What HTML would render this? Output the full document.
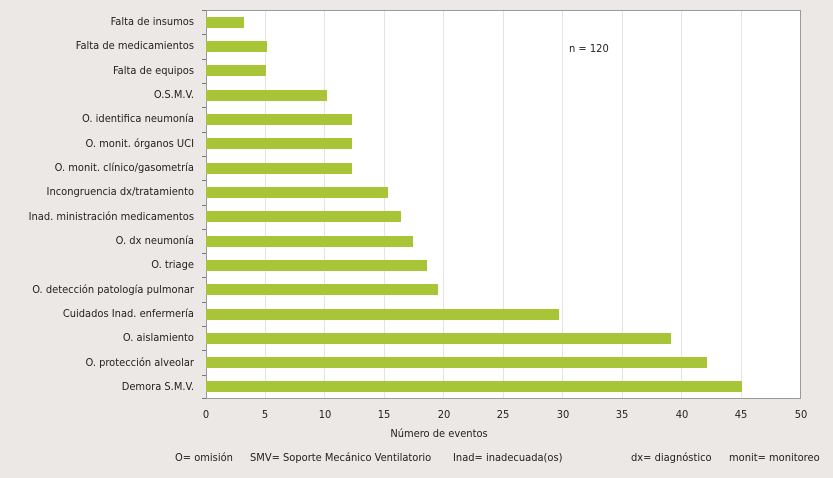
<!DOCTYPE html>
<html><head><meta charset="utf-8"><style>
body{margin:0;background:#ebe8e6;}
svg{display:block;font-family:"DejaVu Sans Condensed","Liberation Sans",sans-serif;}
</style></head><body>
<svg width="833" height="478" xmlns="http://www.w3.org/2000/svg">
<rect width="833" height="478" fill="#ebe8e6"/>
<rect x="206" y="10" width="595" height="389" fill="#fff"/>
<g stroke="#e4e4e4" stroke-width="1">
<line x1="265.5" y1="10" x2="265.5" y2="399"/><line x1="324.5" y1="10" x2="324.5" y2="399"/><line x1="384.5" y1="10" x2="384.5" y2="399"/><line x1="443.5" y1="10" x2="443.5" y2="399"/><line x1="503.5" y1="10" x2="503.5" y2="399"/><line x1="562.5" y1="10" x2="562.5" y2="399"/><line x1="622.5" y1="10" x2="622.5" y2="399"/><line x1="681.5" y1="10" x2="681.5" y2="399"/><line x1="741.5" y1="10" x2="741.5" y2="399"/>
</g>
<rect x="206.5" y="10.5" width="594" height="388" fill="none" stroke="#999" stroke-width="1"/>
<g fill="#a8c437">
<rect x="206" y="17" width="38" height="11"/>
<rect x="206" y="41" width="61" height="11"/>
<rect x="206" y="65" width="60" height="11"/>
<rect x="206" y="90" width="121" height="11"/>
<rect x="206" y="114" width="146" height="11"/>
<rect x="206" y="138" width="146" height="11"/>
<rect x="206" y="163" width="146" height="11"/>
<rect x="206" y="187" width="182" height="11"/>
<rect x="206" y="211" width="195" height="11"/>
<rect x="206" y="236" width="207" height="11"/>
<rect x="206" y="260" width="221" height="11"/>
<rect x="206" y="284" width="232" height="11"/>
<rect x="206" y="309" width="353" height="11"/>
<rect x="206" y="333" width="465" height="11"/>
<rect x="206" y="357" width="501" height="11"/>
<rect x="206" y="381" width="536" height="11"/>
</g>
<g stroke="#777">
<line x1="202" y1="10.5" x2="206" y2="10.5"/><line x1="202" y1="34.5" x2="206" y2="34.5"/><line x1="202" y1="59.5" x2="206" y2="59.5"/><line x1="202" y1="83.5" x2="206" y2="83.5"/><line x1="202" y1="107.5" x2="206" y2="107.5"/><line x1="202" y1="132.5" x2="206" y2="132.5"/><line x1="202" y1="156.5" x2="206" y2="156.5"/><line x1="202" y1="180.5" x2="206" y2="180.5"/><line x1="202" y1="205.5" x2="206" y2="205.5"/><line x1="202" y1="229.5" x2="206" y2="229.5"/><line x1="202" y1="253.5" x2="206" y2="253.5"/><line x1="202" y1="277.5" x2="206" y2="277.5"/><line x1="202" y1="302.5" x2="206" y2="302.5"/><line x1="202" y1="326.5" x2="206" y2="326.5"/><line x1="202" y1="350.5" x2="206" y2="350.5"/><line x1="202" y1="375.5" x2="206" y2="375.5"/><line x1="202" y1="398.5" x2="206" y2="398.5"/>
</g>
<g font-size="11" fill="#222" text-anchor="end">
<text x="194" y="25">Falta de insumos</text>
<text x="194" y="49">Falta de medicamientos</text>
<text x="194" y="74">Falta de equipos</text>
<text x="194" y="98">O.S.M.V.</text>
<text x="194" y="122">O. identifica neumonía</text>
<text x="194" y="147">O. monit. órganos UCI</text>
<text x="194" y="171">O. monit. clínico/gasometría</text>
<text x="194" y="195">Incongruencia dx/tratamiento</text>
<text x="194" y="220">Inad. ministración medicamentos</text>
<text x="194" y="244">O. dx neumonía</text>
<text x="194" y="268">O. triage</text>
<text x="194" y="293">O. detección patología pulmonar</text>
<text x="194" y="317">Cuidados Inad. enfermería</text>
<text x="194" y="341">O. aislamiento</text>
<text x="194" y="366">O. protección alveolar</text>
<text x="194" y="390">Demora S.M.V.</text>
</g>
<g font-size="11" fill="#222" text-anchor="middle">
<text x="206" y="418">0</text><text x="265" y="418">5</text><text x="325" y="418">10</text><text x="384" y="418">15</text><text x="444" y="418">20</text><text x="503" y="418">25</text><text x="563" y="418">30</text><text x="622" y="418">35</text><text x="682" y="418">40</text><text x="741" y="418">45</text><text x="801" y="418">50</text>
<text x="439" y="437">Número de eventos</text>
</g>
<text x="569" y="52" font-size="11" fill="#222">n = 120</text>
<g font-size="11" fill="#222">
<text x="175" y="461">O= omisión</text>
<text x="250" y="461">SMV= Soporte Mecánico Ventilatorio</text>
<text x="453" y="461">Inad= inadecuada(os)</text>
<text x="631" y="461">dx= diagnóstico</text>
<text x="729" y="461">monit= monitoreo</text>
</g>
</svg>
</body></html>
